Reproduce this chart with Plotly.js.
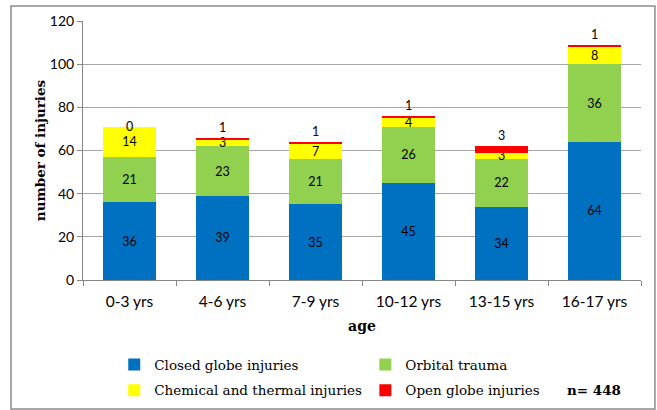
<!DOCTYPE html>
<html>
<head>
<meta charset="utf-8">
<script src="https://cdn.plot.ly/plotly-3.0.1.min.js"></script>
<style>html,body{margin:0;padding:0;background:#fff;}#chart{width:657px;height:410px;}</style>
</head>
<body>
<div id="chart"></div>
<script>
const categories = ["0-3 yrs", "4-6 yrs", "7-9 yrs", "10-12 yrs", "13-15 yrs", "16-17 yrs"];
const closedGlobe = [36, 39, 35, 45, 34, 64];
const orbitalTrauma = [21, 23, 21, 26, 22, 36];
const chemicalThermal = [14, 3, 7, 4, 3, 8];
const openGlobe = [0, 1, 1, 1, 3, 1];
const yTicks = [0, 20, 40, 60, 80, 100, 120];

const sans = "Lato, 'Liberation Sans', sans-serif";
const serif = "'DejaVu Serif', serif";
const labelFont = {family: sans, size: 12.5, color: "#000"};

function barTrace(name, values, color, legend, pos, texts) {
  return {
    type: "bar", name: name, x: categories, y: values,
    marker: {color: color, line: {width: 0}},
    text: texts || values.map(String), textposition: pos || "inside",
    insidetextanchor: "middle", textangle: 0, constraintext: "none",
    textfont: labelFont, insidetextfont: labelFont, outsidetextfont: labelFont,
    cliponaxis: false, legend: legend, legendgroup: name,
    hoverinfo: "skip"
  };
}

const data = [
  barTrace("Closed globe injuries", closedGlobe, "#0070C0", "legend"),
  barTrace("Orbital trauma", orbitalTrauma, "#92D050", "legend2"),
  barTrace("Chemical and thermal injuries", chemicalThermal, "#FFFF00", "legend"),
  barTrace("Open globe injuries", openGlobe, "#FF0000", "legend2", "outside",
           openGlobe.map(v => v === 0 ? "" : String(v)))
];

// zero-valued top segments: label sits on the top edge of the stack (as in the source)
const zeroLabels = [];
openGlobe.forEach((v, i) => {
  if (v === 0) {
    zeroLabels.push({
      xref: "x", yref: "y", x: categories[i],
      y: closedGlobe[i] + orbitalTrauma[i] + chemicalThermal[i] + v,
      text: String(v), showarrow: false, yanchor: "middle", xanchor: "center",
      font: labelFont
    });
  }
});

const legendBase = {
  orientation: "v", yanchor: "top", xanchor: "left", yref: "container", y: 0.148,
  font: {family: serif, size: 13.5, color: "#000"},
  bgcolor: "rgba(0,0,0,0)", itemwidth: 30, tracegroupgap: 5,
  traceorder: "grouped", itemclick: false
};

const layout = {
  width: 657, height: 410,
  margin: {l: 83, r: 16, t: 21, b: 130},
  paper_bgcolor: "#fff", plot_bgcolor: "#fff",
  barmode: "stack", bargap: 0.44,
  showlegend: true,
  legend: Object.assign({}, legendBase, {x: 0.056}),
  legend2: Object.assign({}, legendBase, {x: 0.506}),
  xaxis: {
    type: "category", tickson: "boundaries", ticks: "outside", ticklen: 5,
    tickcolor: "#868686", showline: true, linecolor: "#868686", linewidth: 1,
    tickfont: {family: sans, size: 15.5, color: "#000"}, ticklabelstandoff: 7,
    title: {text: "age", font: {family: serif, size: 14, color: "#000", weight: "bold"}, standoff: 12},
    fixedrange: true, automargin: false
  },
  yaxis: {
    range: [0, 120], tickvals: yTicks, ticktext: yTicks.map(String),
    ticks: "outside", ticklen: 5, tickcolor: "#868686",
    showline: true, linecolor: "#868686", linewidth: 1,
    showgrid: true, gridcolor: "#a6a6a6", gridwidth: 1,
    zeroline: false,
    tickfont: {family: sans, size: 14, color: "#000"},
    title: {text: "number of injuries", font: {family: serif, size: 13.5, color: "#000", weight: "bold"}, standoff: 1},
    fixedrange: true, automargin: false
  },
  annotations: zeroLabels.concat([{
    xref: "paper", yref: "paper", x: 0.915, y: -0.425, xanchor: "center", yanchor: "middle",
    text: "<b>n= 448</b>", showarrow: false,
    font: {family: serif, size: 13.5, color: "#000"}
  }]),
  shapes: [{
    type: "rect", xref: "paper", yref: "paper",
    x0: -0.129, x1: 1.025, y0: -0.498, y1: 1.058,
    line: {color: "#8c8c8c", width: 1.5}, fillcolor: "rgba(0,0,0,0)", layer: "below"
  }]
};

Plotly.newPlot("chart", data, layout, {displayModeBar: false, staticPlot: true});
</script>
</body>
</html>
